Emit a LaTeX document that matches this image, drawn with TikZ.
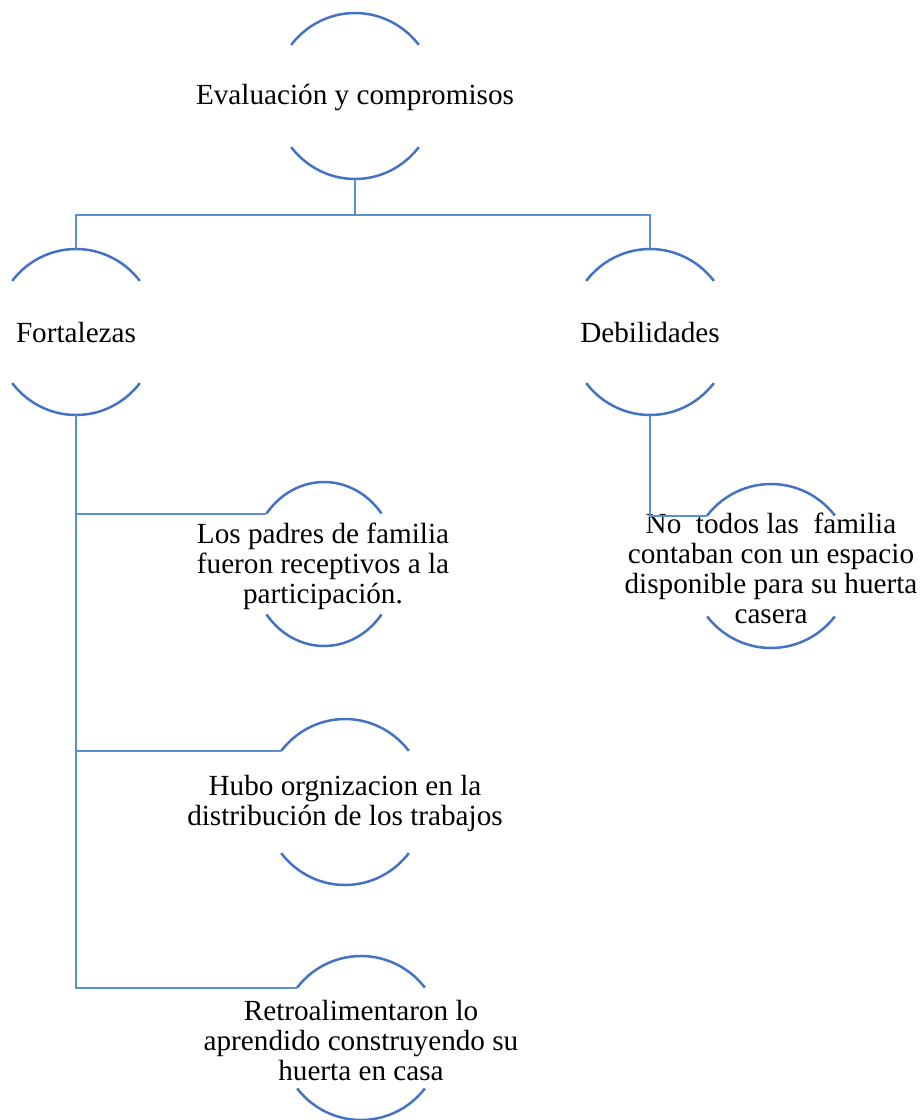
\documentclass[tikz,border=0pt]{standalone}
\usepackage{fontspec}
\setmainfont{Liberation Serif}
\usetikzlibrary{calc}
\definecolor{arcblue}{HTML}{4472C4}
\definecolor{lineblue}{HTML}{5B8FD3}

\begin{document}
\begin{tikzpicture}[x=0.5pt, y=0.5pt,
        lbl/.style={align=center, inner sep=0pt, font=\fontsize{14.6}{15}\selectfont},
        arco/.style={arcblue, line width=1.25pt},
        link/.style={lineblue, line width=1pt}]
            \useasboundingbox (0,0) rectangle (922,-1120);

            \node (E) at (355,-97) [lbl] {Evaluación y compromisos};
            \node (F) at (76,-333) [lbl] {Fortalezas};
            \node (D) at (650,-333) [lbl] {Debilidades};
            \node (P1) at (323,-566) [lbl] {Los padres de familia\\fueron receptivos a la\\participación.};
            \node (P2) at (345,-803) [lbl] {Hubo orgnizacion en la\\distribución de los trabajos};
            \node (P3) at (361,-1040) [lbl] {Retroalimentaron lo\\aprendido construyendo su\\huerta en casa};
            \node (N1) at (771,-568) [lbl] {No\ \ todos las\ \ familia\\contaban con un espacio\\disponible para su huerta\\casera};

            \foreach \n/\cx/\cy/\a/\b in {E/355/-96/81/83, F/76/-332/81/83, D/650/-332/81/83,
                P1/324/-564/73/82, P2/345/-802/81/83, P3/361/-1038/81/82, N1/771/-566/81/82}
                {
                    \coordinate (\n-tl) at ({\cx-\a*cos(38)},{\cy+\b*sin(38)});
                    \coordinate (\n-bl) at ({\cx-\a*cos(38)},{\cy-\b*sin(38)});
                    \coordinate (\n-n) at (\cx,\cy+\b);
                    \coordinate (\n-s) at (\cx,\cy-\b);
                    \draw [arco] (\n-tl) arc[start angle=142, end angle=38, x radius=\a, y radius=\b];
                    \draw [arco] (\n-bl) arc[start angle=218, end angle=322, x radius=\a, y radius=\b];
                }

                \coordinate (bus) at (355,-215);
                \draw [link] (E-s) -- (bus);
                \draw [link] (bus) -| (F-n);
                \draw [link] (bus) -| (D-n);

                \draw [link] (F-s) |- (P1-tl);
                \draw [link] (F-s) |- (P2-tl);
                \draw [link] (F-s) |- (P3-tl);
                \draw [link] (D-s) |- (N1-tl);

        \end{tikzpicture}
\end{document}
